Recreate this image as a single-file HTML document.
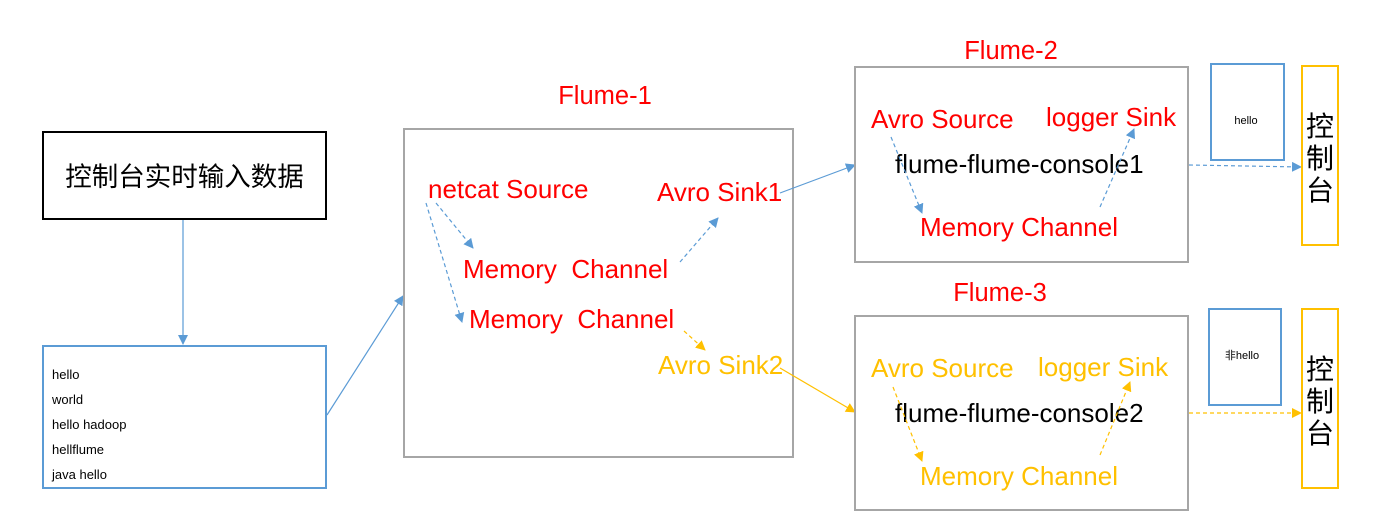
<!DOCTYPE html>
<html><head><meta charset="utf-8"><style>
html,body{margin:0;padding:0;background:#fff;}
svg{display:block;}
text{font-family:"Liberation Sans","Noto Sans CJK SC",sans-serif;}
</style></head><body>
<svg width="1394" height="529" viewBox="0 0 1394 529" xmlns="http://www.w3.org/2000/svg">
<defs>
<marker id="ab" markerWidth="10" markerHeight="10" refX="9" refY="5" orient="auto" markerUnits="userSpaceOnUse"><path d="M0,0 L10,5 L0,10 z" fill="#5B9BD5"/></marker>
<marker id="ao" markerWidth="10" markerHeight="10" refX="9" refY="5" orient="auto" markerUnits="userSpaceOnUse"><path d="M0,0 L10,5 L0,10 z" fill="#FFC000"/></marker>
</defs>
<rect x="43" y="132" width="283" height="87" fill="none" stroke="#000" stroke-width="2"/>
<text x="184.5" y="186" font-size="26.5" text-anchor="middle" fill="#000">控制台实时输入数据</text>
<line x1="183" y1="220" x2="183" y2="344" stroke="#5B9BD5" stroke-width="1.2" marker-end="url(#ab)"/>
<rect x="43" y="346" width="283" height="142" fill="none" stroke="#5B9BD5" stroke-width="2"/>
<g font-size="13" fill="#000">
<text x="52" y="379">hello</text><text x="52" y="404">world</text><text x="52" y="429">hello hadoop</text><text x="52" y="454">hellflume</text><text x="52" y="479">java hello</text>
</g>
<line x1="327" y1="415" x2="403" y2="296" stroke="#5B9BD5" stroke-width="1.2" marker-end="url(#ab)"/>
<rect x="404" y="129" width="389" height="328" fill="none" stroke="#A6A6A6" stroke-width="2"/>
<text x="605" y="104" font-size="25.5" fill="#FF0000" text-anchor="middle">Flume-1</text>
<g font-size="26" fill="#FF0000">
<text x="428" y="198">netcat Source</text>
<text x="657" y="201">Avro Sink1</text>
<text x="463" y="278" xml:space="preserve">Memory  Channel</text>
<text x="469" y="328" xml:space="preserve">Memory  Channel</text>
</g>
<text x="658" y="374" font-size="26" fill="#FFC000">Avro Sink2</text>
<g stroke="#5B9BD5" stroke-width="1.2" stroke-dasharray="4,3" fill="none">
<line x1="436" y1="203" x2="473" y2="248" marker-end="url(#ab)"/>
<line x1="426" y1="203" x2="462" y2="322" marker-end="url(#ab)"/>
<line x1="680" y1="262" x2="718" y2="218" marker-end="url(#ab)"/>
</g>
<line x1="684" y1="331" x2="705" y2="350" stroke="#FFC000" stroke-width="1.2" stroke-dasharray="4,3" marker-end="url(#ao)"/>
<line x1="780" y1="193" x2="855" y2="165" stroke="#5B9BD5" stroke-width="1.2" marker-end="url(#ab)"/>
<line x1="780" y1="368" x2="855" y2="412" stroke="#FFC000" stroke-width="1.2" marker-end="url(#ao)"/>
<rect x="855" y="67" width="333" height="195" fill="none" stroke="#A6A6A6" stroke-width="2"/>
<text x="1011" y="59" font-size="25.5" fill="#FF0000" text-anchor="middle">Flume-2</text>
<g font-size="26" fill="#FF0000">
<text x="871" y="128">Avro Source</text>
<text x="1046" y="126">logger Sink</text>
<text x="920" y="236">Memory Channel</text>
</g>
<text x="895" y="173" font-size="26" fill="#000">flume-flume-console1</text>
<g stroke="#5B9BD5" stroke-width="1.2" stroke-dasharray="4,3">
<line x1="891" y1="137" x2="922" y2="213" marker-end="url(#ab)"/>
<line x1="1100" y1="207" x2="1134" y2="129" marker-end="url(#ab)"/>
<line x1="1189" y1="165" x2="1301" y2="167" marker-end="url(#ab)"/>
</g>
<rect x="855" y="316" width="333" height="194" fill="none" stroke="#A6A6A6" stroke-width="2"/>
<text x="1000" y="301" font-size="25.5" fill="#FF0000" text-anchor="middle">Flume-3</text>
<g font-size="26" fill="#FFC000">
<text x="871" y="377">Avro Source</text>
<text x="1038" y="376">logger Sink</text>
<text x="920" y="485">Memory Channel</text>
</g>
<text x="895" y="422" font-size="26" fill="#000">flume-flume-console2</text>
<g stroke="#FFC000" stroke-width="1.2" stroke-dasharray="4,3">
<line x1="893" y1="387" x2="922" y2="461" marker-end="url(#ao)"/>
<line x1="1100" y1="455" x2="1130" y2="382" marker-end="url(#ao)"/>
<line x1="1189" y1="413" x2="1301" y2="413" marker-end="url(#ao)"/>
</g>
<rect x="1211" y="64" width="73" height="96" fill="none" stroke="#5B9BD5" stroke-width="2"/>
<text x="1246" y="124" font-size="11" fill="#000" text-anchor="middle">hello</text>
<rect x="1209" y="309" width="72" height="96" fill="none" stroke="#5B9BD5" stroke-width="2"/>
<text x="1242" y="359" font-size="11" fill="#000" text-anchor="middle">非hello</text>
<rect x="1302" y="66" width="36" height="179" fill="none" stroke="#FFC000" stroke-width="2"/>
<rect x="1302" y="309" width="36" height="179" fill="none" stroke="#FFC000" stroke-width="2"/>
<g font-size="28" fill="#000" text-anchor="middle">
<text x="1320" y="136">控</text><text x="1320" y="168">制</text><text x="1320" y="200">台</text>
<text x="1320" y="379">控</text><text x="1320" y="411">制</text><text x="1320" y="443">台</text>
</g>
</svg>
</body></html>
